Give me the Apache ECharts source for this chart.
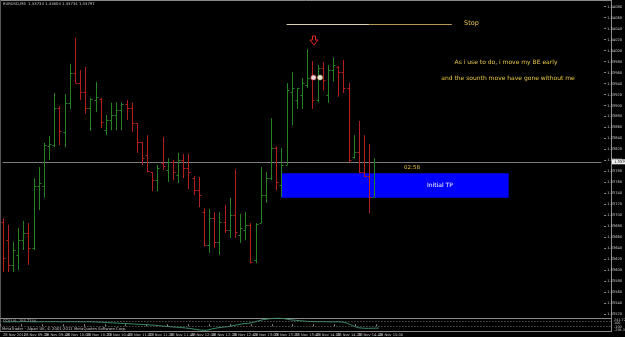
<!DOCTYPE html>
<html><head><meta charset="utf-8">
<script src="https://cdn.jsdelivr.net/npm/echarts@6/dist/echarts.min.js"></script>
<style>html,body{margin:0;padding:0;background:#000;}#c{width:625px;height:337px;}</style>
</head><body><div id="c"></div>
<script>
// OHLC of the M5 bars (EURUSD)
const openP  = [1.33688,1.33655,1.33610,1.33628,1.33655,1.33668,1.33641,1.33754,1.33754,1.33826,1.33828,1.33895,1.33852,1.33905,1.33959,1.33941,1.33925,1.33895,1.33910,1.33912,1.33855,1.33874,1.33883,1.33892,1.33903,1.33895,1.33868,1.33834,1.33810,1.33779,1.33764,1.33795,1.33783,1.33797,1.33774,1.33801,1.33786,1.33768,1.33746,1.33706,1.33646,1.33695,1.33652,1.33688,1.33673,1.33701,1.33664,1.33673,1.33683,1.33619,1.33686,1.33737,1.33768,1.33823,1.33755,1.33792,1.33925,1.33910,1.33919,1.33937,1.33950,1.33910,1.33968,1.33919,1.33965,1.33970,1.33961,1.33932,1.33806,1.33815,1.33779,1.33772,1.33734];
const highP  = [1.33695,1.33683,1.33652,1.33677,1.33690,1.33686,1.33768,1.33788,1.33832,1.33844,1.33923,1.33899,1.33921,1.33976,1.34023,1.33965,1.33970,1.33914,1.33943,1.33914,1.33883,1.33905,1.33906,1.33906,1.33910,1.33905,1.33868,1.33834,1.33846,1.33779,1.33792,1.33843,1.33804,1.33801,1.33814,1.33812,1.33812,1.33772,1.33770,1.33713,1.33712,1.33706,1.33706,1.33719,1.33732,1.33784,1.33703,1.33706,1.33686,1.33686,1.33788,1.33779,1.33877,1.33826,1.33823,1.33941,1.33961,1.33932,1.33950,1.34003,1.33981,1.33974,1.33979,1.33974,1.33988,1.33972,1.33983,1.33941,1.33846,1.33872,1.33846,1.33830,1.33804];
const lowP   = [1.33597,1.33597,1.33597,1.33601,1.33637,1.33610,1.33637,1.33710,1.33732,1.33801,1.33824,1.33828,1.33824,1.33894,1.33941,1.33910,1.33885,1.33854,1.33888,1.33859,1.33846,1.33855,1.33855,1.33855,1.33874,1.33852,1.33814,1.33792,1.33779,1.33744,1.33744,1.33783,1.33761,1.33764,1.33759,1.33768,1.33748,1.33737,1.33715,1.33643,1.33632,1.33641,1.33628,1.33668,1.33659,1.33659,1.33650,1.33655,1.33613,1.33613,1.33686,1.33723,1.33764,1.33746,1.33734,1.33792,1.33864,1.33894,1.33894,1.33932,1.33894,1.33906,1.33928,1.33905,1.33943,1.33916,1.33923,1.33797,1.33803,1.33777,1.33770,1.33704,1.33734];
const closeP = [1.33622,1.33610,1.33637,1.33655,1.33668,1.33641,1.33754,1.33759,1.33828,1.33830,1.33895,1.33854,1.33905,1.33959,1.33941,1.33925,1.33895,1.33912,1.33916,1.33870,1.33874,1.33883,1.33892,1.33903,1.33895,1.33868,1.33834,1.33804,1.33781,1.33764,1.33786,1.33790,1.33797,1.33779,1.33801,1.33786,1.33779,1.33746,1.33737,1.33646,1.33695,1.33652,1.33688,1.33673,1.33701,1.33670,1.33677,1.33683,1.33615,1.33684,1.33737,1.33768,1.33823,1.33761,1.33792,1.33928,1.33932,1.33932,1.33941,1.33950,1.33910,1.33968,1.33946,1.33965,1.33974,1.33961,1.33932,1.33801,1.33815,1.33779,1.33772,1.33734,1.33797];
// oscillator (CCI) values per bar
const cciVals = [100,95,105,100,110,100,95,100,105,100,110,95,100,105,100,95,100,100,90,80,65,55,45,35,20,10,-5,-15,-25,-40,-60,-80,-100,-115,-130,-150,-175,-210,-240,-245,-190,-150,-120,-100,-60,-20,20,35,80,140,190,220,240,245,220,180,160,140,120,110,100,105,100,95,100,90,40,-60,-140,-160,-165,-160,-155];
// time-axis tick labels (every 4 bars)
const timeTicks = ["28 Nov 2011","28 Nov 09:20","28 Nov 09:40","28 Nov 10:00","28 Nov 10:20","28 Nov 10:40","28 Nov 11:00","28 Nov 11:20","28 Nov 11:40","28 Nov 12:00","28 Nov 12:20","28 Nov 12:40","28 Nov 13:00","28 Nov 13:20","28 Nov 13:40","28 Nov 14:00","28 Nov 14:20","28 Nov 14:40","28 Nov 15:00"];
const slotCount = 117;
const lastPrice = 1.33797;
const stopPrice = 1.34048;
const tpTop = 1.33777, tpBottom = 1.33732;

const cats = [];
for (let i = 0; i < slotCount; i++) cats.push(String(i));
const ohlc = openP.map((o, i) => [i, o, closeP[i], lowP[i], highP[i]]);

const GREEN = '#248224', RED = '#b51e1e', GRAY = '#8a8a8a', LBL = '#c8c8c8', YEL = '#e8c547';
const chart = echarts.init(document.getElementById('c'));
chart.setOption({
  backgroundColor: '#000',
  animation: false,
  grid: [
    {left: -1, right: 14, top: 6.7, bottom: 22.7},
    {left: -1, right: 14, top: 318, bottom: 5.3}
  ],
  xAxis: [
    {type: 'category', data: cats, gridIndex: 0, boundaryGap: true, axisLine: {show: false}, axisTick: {show: false}, axisLabel: {show: false}, splitLine: {show: false}},
    {type: 'category', data: cats, gridIndex: 1, boundaryGap: true, axisLine: {show: false},
      axisTick: {show: true, interval: (i) => i % 4 === 0 && i / 4 < timeTicks.length, length: 2, lineStyle: {color: GRAY}},
      axisLabel: {interval: 0, fontSize: 3.6, color: LBL, margin: 1, align: 'left', fontFamily: 'DejaVu Sans',
        formatter: (v, i) => (i % 4 === 0 && timeTicks[i / 4]) ? timeTicks[i / 4] : ''}}
  ],
  yAxis: [
    {type: 'value', gridIndex: 0, position: 'right', min: 1.33520, max: 1.34080, interval: 0.0002,
      axisLine: {show: false}, axisTick: {show: true, length: 2, lineStyle: {color: GRAY}}, splitLine: {show: false},
      axisLabel: {fontSize: 3.6, color: LBL, margin: 3, fontFamily: 'DejaVu Sans', formatter: v => v.toFixed(5)}},
    {type: 'value', gridIndex: 1, min: -300, max: 250, show: false}
  ],
  graphic: [
    {type: 'line', shape: {x1: 0, y1: 0.5, x2: 611, y2: 0.5}, style: {stroke: GRAY, lineWidth: 1}},
    {type: 'line', shape: {x1: 0.5, y1: 0, x2: 0.5, y2: 332}, style: {stroke: '#555', lineWidth: 1}},
    {type: 'line', shape: {x1: 611.5, y1: 0, x2: 611.5, y2: 332}, style: {stroke: GRAY, lineWidth: 1}},
    {type: 'line', shape: {x1: 0, y1: 318.5, x2: 611, y2: 318.5}, style: {stroke: GRAY, lineWidth: 1}},
    {type: 'line', shape: {x1: 0, y1: 331.5, x2: 611, y2: 331.5}, style: {stroke: GRAY, lineWidth: 1}},
    {type: 'text', left: 3, top: 2, style: {text: 'EURUSD,M5  1.33734 1.33804 1.33734 1.33797', fill: LBL, fontSize: 3.8, fontFamily: 'DejaVu Sans'}},
    {type: 'text', left: 3, top: 319.5, style: {text: 'CCI(14) -155.2744', fill: LBL, fontSize: 3.6, fontFamily: 'DejaVu Sans'}},
    {type: 'text', left: 2, top: 327.5, style: {text: 'MetaTrader - Alpari UK, \u00a9 2001-2011 MetaQuotes Software Corp.', fill: LBL, fontSize: 3.8, fontFamily: 'DejaVu Sans'}},
    {type: 'text', x: 464, y: 23, style: {text: 'Stop', fill: YEL, fontSize: 6.5, fontFamily: 'DejaVu Sans', verticalAlign: 'middle'}},
    {type: 'text', x: 506, y: 62, style: {text: 'As i use to do, i move my BE early', fill: YEL, fontSize: 6, fontFamily: 'DejaVu Sans', align: 'center', verticalAlign: 'middle'}},
    {type: 'text', x: 508, y: 78, style: {text: 'and the sounth move have gone without me', fill: YEL, fontSize: 6, fontFamily: 'DejaVu Sans', align: 'center', verticalAlign: 'middle'}},
    {type: 'text', x: 412, y: 168, z: 20, style: {text: '02:58', fill: YEL, fontSize: 5.5, fontFamily: 'DejaVu Sans', align: 'center', verticalAlign: 'middle'}},
    {type: 'text', x: 440, y: 185, z: 20, style: {text: 'Initial TP', fill: '#fff', fontSize: 6, fontFamily: 'DejaVu Sans', align: 'center', verticalAlign: 'middle'}},
    {type: 'polygon', z: 20, shape: {points: [[312.5,36],[315.5,36],[315.5,40],[318,40],[314,45],[310,40],[312.5,40]]}, style: {fill: 'none', stroke: '#e02828', lineWidth: 1}},
    {type: 'circle', z: 20, shape: {cx: 313.5, cy: 77.5, r: 2.6}, style: {fill: '#e8d8d8', stroke: '#c03030', lineWidth: 0.6}},
    {type: 'circle', z: 20, shape: {cx: 320, cy: 77.5, r: 2.6}, style: {fill: '#e8e8d8', stroke: '#a09050', lineWidth: 0.6}},
    {type: 'rect', z: 20, shape: {x: 612, y: 159.3, width: 13, height: 5}, style: {fill: '#f0f0f0'}},
    {type: 'text', z: 21, x: 614, y: 161.8, style: {text: lastPrice.toFixed(5), fill: '#000', fontSize: 3.6, fontFamily: 'DejaVu Sans', verticalAlign: 'middle'}},
    {type: 'text', x: 614, y: 320.5, style: {text: '241.7236', fill: LBL, fontSize: 3.4, fontFamily: 'DejaVu Sans', verticalAlign: 'middle'}},
    {type: 'text', x: 614, y: 323.5, style: {text: '100', fill: LBL, fontSize: 3.4, fontFamily: 'DejaVu Sans', verticalAlign: 'middle'}},
    {type: 'text', x: 614, y: 327, style: {text: '-100', fill: LBL, fontSize: 3.4, fontFamily: 'DejaVu Sans', verticalAlign: 'middle'}},
    {type: 'text', x: 614, y: 330, style: {text: '-294.3', fill: LBL, fontSize: 3.4, fontFamily: 'DejaVu Sans', verticalAlign: 'middle'}}
  ],
  series: [
    {type: 'line', xAxisIndex: 0, yAxisIndex: 0, data: [], z: 1, silent: true,
      markArea: {silent: true, itemStyle: {color: '#0000ff'}, data: [[{xAxis: '54', yAxis: tpTop}, {xAxis: '98', yAxis: tpBottom}]]},
      markLine: {silent: true, symbol: 'none', label: {show: false},
        data: [
          [{coord: ['0', lastPrice], lineStyle: {color: '#7a7a7a', width: 1, type: 'solid'}}, {coord: ['116', lastPrice]}],
          [{coord: ['55', stopPrice], lineStyle: {color: '#d8d0b0', width: 1, type: 'solid'}}, {coord: ['71', stopPrice]}],
          [{coord: ['71', stopPrice], lineStyle: {color: '#b89858', width: 1, type: 'solid'}}, {coord: ['87', stopPrice]}]
        ]}},
    {type: 'custom', xAxisIndex: 0, yAxisIndex: 0, z: 5, data: ohlc, clip: false,
      renderItem: function (params, api) {
        const x = api.value(0);
        const o = api.coord([x, api.value(1)]);
        const c = api.coord([x, api.value(2)]);
        const l = api.coord([x, api.value(3)]);
        const h = api.coord([x, api.value(4)]);
        const col = api.value(2) >= api.value(1) ? GREEN : RED;
        const px = Math.round(o[0]) + 0.5;
        const st = {stroke: col, lineWidth: 1};
        return {type: 'group', children: [
          {type: 'line', shape: {x1: px, y1: h[1], x2: px, y2: l[1]}, style: st},
          {type: 'line', shape: {x1: px - 2, y1: Math.round(o[1]) + 0.5, x2: px, y2: Math.round(o[1]) + 0.5}, style: st},
          {type: 'line', shape: {x1: px, y1: Math.round(c[1]) + 0.5, x2: px + 2, y2: Math.round(c[1]) + 0.5}, style: st}
        ]};
      }},
    {type: 'line', xAxisIndex: 1, yAxisIndex: 1, data: cciVals, symbol: 'none', lineStyle: {color: '#3a8a66', width: 1},
      markLine: {silent: true, symbol: 'none', label: {show: false}, lineStyle: {color: '#707070', type: [1, 2], width: 1},
        data: [{yAxis: 100}, {yAxis: -100}]}}
  ]
});
</script></body></html>
